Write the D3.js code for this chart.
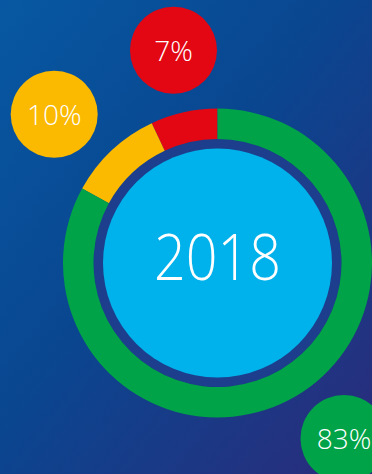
<!DOCTYPE html>
<html>
<head>
<meta charset="utf-8">
<script src="https://cdn.jsdelivr.net/npm/d3@7"></script>
<style>
  html, body { margin: 0; padding: 0; background: #0d4a94; }
  svg { display: block; }
</style>
</head>
<body>
<div id="chart"></div>
<script>
// Share of each segment for the year shown in the centre
const year = "2018";
const categories = ["red", "yellow", "green"];
const shares = [7, 10, 83];
const labels = ["7%", "10%", "83%"];
const colors = ["#e30613", "#fbb900", "#00a347"];

const W = 372, H = 474;
const cx = 217.5, cy = 263;
const outerR = 154.5, innerR = 124, coreR = 114.5;
const bubbleR = 43.5;

const svg = d3.select("#chart").append("svg")
  .attr("width", W).attr("height", H);

const defs = svg.append("defs");
const grad = defs.append("linearGradient")
  .attr("id", "bg").attr("x1", "0").attr("y1", "0").attr("x2", "1").attr("y2", "1");
grad.append("stop").attr("offset", "0%").attr("stop-color", "#0758a2");
grad.append("stop").attr("offset", "45%").attr("stop-color", "#0a4690");
grad.append("stop").attr("offset", "100%").attr("stop-color", "#2b2b7b");

svg.append("rect").attr("width", W).attr("height", H).attr("fill", "url(#bg)");

// Ring: segments run counter-clockwise from 12 o'clock
const pie = d3.pie().sort(null).startAngle(0).endAngle(-2 * Math.PI);
const arcs = pie(shares);
const arc = d3.arc().innerRadius(innerR).outerRadius(outerR);

const g = svg.append("g").attr("transform", `translate(${cx},${cy})`);

g.append("circle").attr("r", innerR).attr("fill", "#1c3e8c");

g.selectAll("path.seg").data(arcs).join("path")
  .attr("class", "seg")
  .attr("d", arc)
  .attr("fill", (d, i) => colors[i]);

g.append("circle").attr("r", coreR).attr("fill", "#00b2eb");

g.append("text")
  .attr("x", 0).attr("y", 16.5)
  .attr("text-anchor", "middle")
  .attr("font-family", "'Open Sans', sans-serif")
  .attr("font-weight", 300)
  .attr("font-size", 65)
  .attr("fill", "#ffffff")
  .attr("textLength", 127)
  .attr("lengthAdjust", "spacingAndGlyphs")
  .text(year);

// Value bubbles placed around the ring
const bubblePos = [
  { x: 173.5, y: 50.3 },
  { x: 54.2, y: 114.3 },
  { x: 344, y: 438.5 }
];

const bubbles = svg.selectAll("g.bubble").data(categories).join("g")
  .attr("class", "bubble")
  .attr("transform", (d, i) => `translate(${bubblePos[i].x},${bubblePos[i].y})`);

bubbles.append("circle").attr("r", bubbleR).attr("fill", (d, i) => colors[i]);

bubbles.append("text")
  .attr("x", 0).attr("y", 10.5)
  .attr("text-anchor", "middle")
  .attr("font-family", "'Open Sans', sans-serif")
  .attr("font-weight", 300)
  .attr("font-size", 28)
  .attr("fill", "#ffffff")
  .text((d, i) => labels[i]);
</script>
</body>
</html>
